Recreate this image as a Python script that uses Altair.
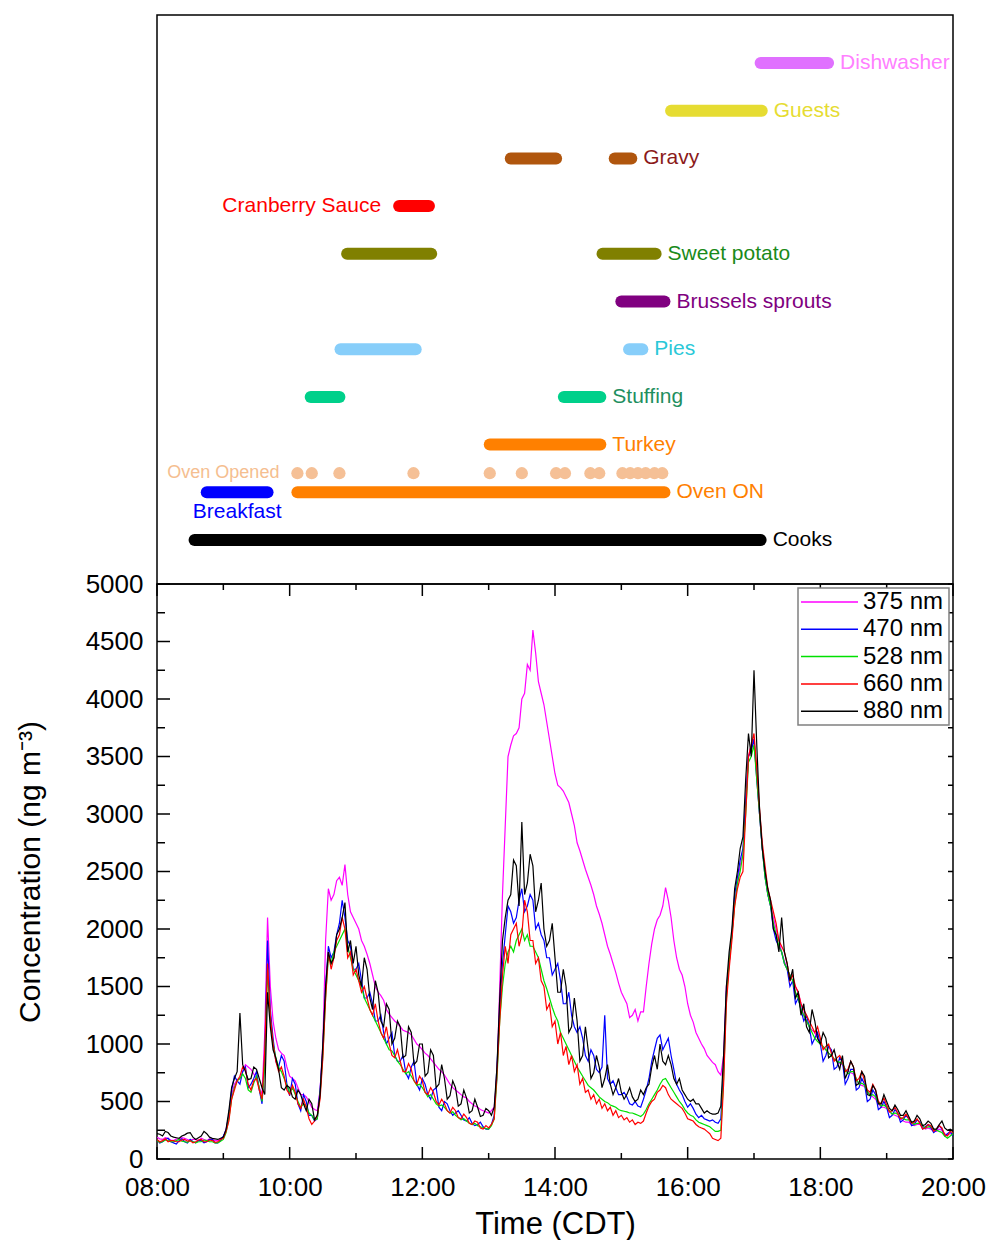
import altair as alt
import pandas as pd

# ---------------------------------------------------------------------------
# Black-carbon concentrations (ng m-3), one value every 2.5 minutes,
# 08:00-20:00; each row below covers half an hour.
# ---------------------------------------------------------------------------
SAMPLE_MIN = [480 + 2.5 * k for k in range(289)]

BC_375 = [
    190, 175, 170, 185, 180, 165, 160, 175, 170, 185, 180, 170,
    160, 170, 170, 160, 180, 170, 160, 175, 170, 160, 160, 175,
    190, 260, 380, 560, 650, 690, 700, 760, 820, 800, 780, 740,
    700, 620, 560, 1100, 2100, 1500, 1200, 1050, 950, 920, 900, 800,
    720, 700, 680, 620, 560, 560, 540, 500, 450, 430, 420, 600,
    1000, 1900, 2350, 2250, 2300, 2420, 2450, 2380, 2560, 2300, 2150, 2100,
    2050, 2000, 1900, 1850, 1780, 1700, 1600, 1500, 1450, 1420, 1380, 1300,
    1260, 1230, 1200, 1180, 1150, 1120, 1110, 1100, 1080, 1040, 1000, 980,
    950, 920, 900, 870, 840, 810, 780, 760, 730, 690, 650, 620,
    600, 580, 560, 540, 530, 500, 480, 460, 450, 430, 420, 410,
    400, 420, 450, 700, 1500, 2300, 2900, 3500, 3600, 3680, 3700, 3750,
    4000, 4050, 4300, 4250, 4600, 4400, 4150, 4050, 3950, 3800, 3650, 3500,
    3350, 3250, 3230, 3200, 3150, 3100, 3000, 2900, 2750, 2680, 2600, 2520,
    2450, 2380, 2300, 2200, 2130, 2050, 1950, 1850, 1780, 1700, 1620, 1530,
    1450, 1400, 1350, 1230, 1250, 1300, 1200, 1280, 1280, 1500, 1700, 1870,
    2000, 2080, 2120, 2200, 2360, 2250, 2100, 1900, 1750, 1650, 1600, 1500,
    1350, 1250, 1190, 1100, 1050, 1000, 960, 900, 870, 840, 820, 760,
    730, 900, 1500, 1700, 1950, 2250, 2400, 2550, 2650, 3100, 3500, 3600,
    3650, 3350, 3000, 2700, 2500, 2300, 2200, 2100, 2000, 1900, 1800, 1720,
    1650, 1600, 1550, 1500, 1450, 1350, 1250, 1200, 1150, 1120, 1100, 1050,
    1000, 970, 950, 920, 900, 870, 850, 830, 820, 780, 760, 750,
    740, 690, 650, 640, 630, 590, 560, 540, 520, 480, 450, 450,
    440, 410, 390, 380, 370, 350, 330, 320, 320, 300, 290, 300,
    300, 280, 260, 270, 260, 250, 240, 260, 250, 220, 210, 220,
    210,
]

BC_470 = [
    170, 140, 150, 170, 180, 150, 140, 130, 160, 175, 150, 140,
    170, 150, 140, 160, 160, 140, 150, 170, 170, 140, 140, 160,
    200, 250, 380, 600, 720, 680, 650, 760, 800, 620, 650, 700,
    760, 600, 480, 900, 1900, 1300, 1050, 850, 800, 900, 850, 650,
    550, 700, 650, 480, 420, 560, 500, 380, 380, 330, 350, 600,
    950, 1500, 1850, 1750, 1800, 1950, 2050, 2250, 2100, 1900, 1850, 1650,
    1650, 1700, 1550, 1400, 1400, 1450, 1350, 1200, 1200, 1250, 1100, 1000,
    1050, 1100, 900, 850, 850, 900, 750, 700, 800, 850, 650, 600,
    700, 650, 560, 520, 600, 620, 450, 420, 500, 480, 420, 380,
    400, 420, 380, 340, 330, 360, 310, 290, 300, 320, 280, 260,
    260, 300, 380, 800, 1300, 1700, 1950, 2200, 2150, 2050, 2100, 2250,
    2350, 2150, 2200, 2300, 2250, 2000, 2050, 1950, 1900, 1750, 1750, 1600,
    1650, 1700, 1550, 1350, 1350, 1450, 1250, 1150, 1100, 1150, 1050, 900,
    850, 950, 900, 780, 750, 800, 1250, 700, 650, 680, 620, 560,
    560, 580, 540, 480, 470, 500, 460, 450, 520, 600, 700, 850,
    950, 1050, 1080, 950, 1000, 1050, 900, 780, 650, 600, 560, 500,
    450, 480, 440, 390, 360, 380, 350, 340, 330, 340, 320, 310,
    350, 800, 1450, 1700, 1950, 2300, 2450, 2600, 2700, 3100, 3500, 3550,
    3650, 3300, 3000, 2700, 2450, 2300, 2200, 2000, 1900, 1850, 1800, 1700,
    1650, 1500, 1550, 1350, 1400, 1300, 1200, 1250, 1150, 1000, 1050, 1100,
    1000, 850, 900, 980, 950, 780, 800, 880, 850, 650, 700, 780,
    780, 600, 620, 700, 650, 500, 520, 600, 560, 430, 450, 500,
    450, 360, 380, 430, 400, 320, 340, 380, 350, 290, 300, 340,
    320, 260, 280, 300, 270, 230, 250, 290, 260, 200, 220, 240,
    200,
]

BC_528 = [
    160, 145, 150, 165, 160, 150, 150, 160, 170, 155, 150, 145,
    160, 150, 140, 150, 150, 165, 160, 150, 150, 140, 140, 155,
    170, 230, 350, 520, 620, 680, 700, 740, 700, 600, 580, 660,
    720, 620, 500, 820, 1650, 1200, 1000, 880, 800, 760, 700, 640,
    580, 620, 560, 500, 450, 480, 460, 400, 380, 340, 350, 560,
    900, 1400, 1750, 1700, 1800, 1850, 1900, 1950, 2000, 1850, 1750, 1650,
    1600, 1550, 1500, 1400, 1350, 1300, 1250, 1200, 1150, 1100, 1050, 1000,
    950, 940, 900, 850, 820, 780, 740, 760, 720, 680, 640, 650,
    620, 580, 540, 560, 520, 480, 460, 470, 450, 420, 400, 410,
    380, 360, 340, 350, 330, 310, 300, 310, 290, 280, 270, 265,
    260, 290, 350, 700, 1200, 1500, 1700, 1800, 1850, 1800, 1900, 1950,
    2000, 1900, 1950, 1850, 1850, 1800, 1750, 1650, 1550, 1480, 1400, 1320,
    1250, 1200, 1100, 1050, 1000, 950, 900, 850, 800, 760, 720, 680,
    640, 620, 600, 570, 540, 520, 500, 490, 470, 460, 450, 430,
    420, 415, 410, 400, 400, 390, 380, 370, 390, 430, 480, 520,
    560, 600, 650, 690, 700, 660, 620, 580, 540, 500, 470, 430,
    400, 380, 370, 340, 320, 310, 300, 290, 280, 260, 240, 240,
    250, 700, 1400, 1700, 1950, 2200, 2400, 2500, 2650, 3000, 3450, 3500,
    3600, 3300, 3000, 2700, 2450, 2300, 2200, 2050, 1950, 1850, 1800, 1700,
    1650, 1600, 1550, 1450, 1400, 1300, 1250, 1200, 1150, 1100, 1050, 1020,
    1000, 980, 950, 920, 900, 870, 850, 840, 830, 780, 740, 760,
    760, 700, 650, 660, 640, 590, 550, 560, 540, 490, 460, 470,
    450, 420, 390, 400, 390, 360, 350, 340, 340, 320, 300, 310,
    310, 290, 270, 280, 280, 260, 250, 240, 230, 200, 180, 200,
    220,
]

BC_660 = [
    170, 150, 160, 175, 150, 160, 160, 150, 150, 165, 170, 155,
    160, 140, 150, 165, 170, 150, 150, 165, 160, 145, 150, 170,
    180, 240, 330, 520, 600, 680, 720, 800, 780, 650, 600, 680,
    700, 600, 520, 950, 1700, 1250, 1000, 850, 760, 800, 720, 600,
    560, 640, 580, 480, 440, 520, 450, 350, 300, 330, 380, 520,
    880, 1400, 1800, 1650, 1750, 1900, 1950, 2100, 2000, 1750, 1800, 1600,
    1650, 1550, 1450, 1500, 1400, 1300, 1250, 1350, 1200, 1100, 1050, 1150,
    1000, 900, 880, 950, 850, 760, 760, 830, 780, 680, 650, 720,
    680, 580, 560, 620, 580, 500, 470, 520, 480, 420, 400, 450,
    420, 360, 350, 390, 360, 310, 300, 330, 320, 270, 260, 290,
    270, 300, 350, 750, 1200, 1600, 1850, 1700, 1950, 2000, 2050, 1850,
    1950, 2250, 2150, 1900, 1900, 1700, 1750, 1550, 1500, 1300, 1350, 1150,
    1200, 1000, 1100, 900, 980, 820, 900, 760, 820, 650, 700, 580,
    600, 520, 560, 480, 520, 440, 480, 420, 450, 380, 420, 360,
    380, 340, 360, 320, 340, 300, 320, 310, 330, 400, 460, 500,
    520, 580, 600, 640, 620, 560, 520, 500, 480, 460, 440, 400,
    350, 340, 330, 300, 280, 270, 260, 240, 220, 180, 170, 160,
    180, 650, 1350, 1650, 1900, 2200, 2350, 2450, 2500, 3000, 3500, 3600,
    3700, 3400, 3050, 2750, 2550, 2350, 2250, 2150, 2050, 1900, 1850, 1800,
    1700, 1550, 1600, 1500, 1450, 1350, 1300, 1250, 1200, 1150, 1100, 1150,
    1050, 950, 980, 1000, 920, 850, 880, 900, 850, 760, 780, 850,
    800, 680, 700, 760, 680, 600, 580, 650, 600, 500, 480, 530,
    470, 410, 420, 450, 400, 350, 360, 390, 350, 310, 320, 350,
    310, 260, 270, 300, 290, 240, 260, 290, 270, 210, 200, 240,
    230,
]

BC_880 = [
    220, 215, 200, 240, 230, 200, 190, 185, 180, 200, 210, 225,
    230, 190, 170, 185, 200, 240, 220, 190, 180, 175, 170, 180,
    190, 260, 420, 620, 700, 760, 1270, 820, 760, 690, 700, 800,
    780, 700, 620, 560, 1450, 1150, 950, 880, 780, 620, 600, 640,
    620, 540, 520, 600, 560, 480, 420, 520, 480, 340, 380, 560,
    1000, 1500, 1800, 1700, 1750, 1950, 2000, 2100, 2230, 1800, 1900, 1700,
    1850, 1600, 1500, 1750, 1650, 1400, 1300, 1550, 1450, 1200, 1150, 1350,
    1300, 1000, 1050, 1200, 1150, 880, 900, 1150, 1100, 820, 850, 1000,
    1000, 720, 750, 950, 900, 620, 650, 820, 700, 520, 550, 680,
    620, 460, 480, 600, 530, 400, 420, 520, 450, 370, 380, 440,
    420, 380, 450, 800, 1400, 1900, 2100, 2250, 2300, 2600, 2550, 2200,
    2930, 2300, 2400, 2650, 2550, 2150, 2250, 2400, 2000, 1850, 1900, 2050,
    1750, 1450, 1450, 1650, 1500, 1100, 1150, 1400, 1200, 850, 900, 1150,
    950, 700, 750, 900, 800, 620, 700, 820, 650, 560, 620, 700,
    580, 520, 560, 620, 540, 500, 520, 600, 560, 620, 650, 800,
    900, 780, 1000, 850, 820, 900, 820, 700, 650, 700, 600, 560,
    520, 500, 520, 480, 480, 440, 400, 420, 400, 390, 390, 400,
    460, 900, 1500, 1800, 2000, 2350, 2500, 2700, 2800, 3300, 3700, 3500,
    4250, 3600, 3050, 2700, 2500, 2350, 2250, 2000, 1950, 1800, 2100, 1800,
    1700, 1550, 1650, 1400, 1450, 1250, 1350, 1150, 1100, 1300, 1200, 1050,
    1000, 1100, 1050, 880, 900, 950, 850, 780, 900, 700, 760, 850,
    800, 640, 660, 760, 720, 560, 550, 640, 600, 480, 480, 560,
    500, 440, 420, 470, 430, 380, 380, 420, 370, 320, 330, 380,
    350, 290, 300, 330, 310, 260, 260, 300, 330, 270, 250, 260,
    240,
]

SERIES_NAMES = ["375 nm", "470 nm", "528 nm", "660 nm", "880 nm"]
SERIES_VALUES = [BC_375, BC_470, BC_528, BC_660, BC_880]
SERIES_COLORS = ["#ff00ff", "#0000ff", "#00e000", "#ff0000", "#000000"]

# ---------------------------------------------------------------------------
# Activity log
# ---------------------------------------------------------------------------
ROW = {
    "Cooks": 0, "Breakfast": 1, "Oven ON": 1, "Oven Opened": 1.4, "Turkey": 2,
    "Stuffing": 3, "Pies": 4, "Brussels sprouts": 5, "Sweet potato": 6,
    "Cranberry Sauce": 7, "Gravy": 8, "Guests": 9, "Dishwasher": 10,
}

SEGMENTS = [
    ("Cooks", "08:34", "17:06"),
    ("Breakfast", "08:45", "09:40"),
    ("Oven ON", "10:07", "15:39"),
    ("Turkey", "13:01", "14:41"),
    ("Stuffing", "10:19", "10:45"),
    ("Stuffing", "14:08", "14:41"),
    ("Pies", "10:46", "11:54"),
    ("Pies", "15:07", "15:19"),
    ("Brussels sprouts", "15:00", "15:39"),
    ("Sweet potato", "10:52", "12:08"),
    ("Sweet potato", "14:43", "15:31"),
    ("Cranberry Sauce", "11:39", "12:06"),
    ("Gravy", "13:20", "14:01"),
    ("Gravy", "14:54", "15:09"),
    ("Guests", "15:45", "17:07"),
    ("Dishwasher", "17:06", "18:07"),
]

OVEN_OPENED = ["10:07", "10:20", "10:45", "11:52", "13:01", "13:30", "14:01",
               "14:09", "14:32", "14:40", "15:01", "15:08", "15:15", "15:22",
               "15:30", "15:37"]

BAR_COLOR = {
    "Cooks": "#000000", "Breakfast": "#0000ff", "Oven ON": "#ff8000",
    "Turkey": "#ff8000", "Stuffing": "#00d08a", "Pies": "#87cefa",
    "Brussels sprouts": "#800080", "Sweet potato": "#808000",
    "Cranberry Sauce": "#ff0000", "Gravy": "#b0560e", "Guests": "#e6dc32",
    "Dishwasher": "#e070ff",
}
LABEL_COLOR = {
    "Cooks": "#000000", "Breakfast": "#0000ff", "Oven ON": "#ff8000",
    "Turkey": "#ff8000", "Stuffing": "#1f8f5f", "Pies": "#2ac8d8",
    "Brussels sprouts": "#800080", "Sweet potato": "#1a8a1a",
    "Cranberry Sauce": "#ff0000", "Gravy": "#8b1a1a", "Guests": "#e6dc32",
    "Dishwasher": "#ff80ff", "Oven Opened": "#f5be90",
}
LEFT_LABELS = ["Cranberry Sauce"]
BELOW_LABELS = ["Breakfast"]

FONT = "Liberation Sans"
W = 796
H_TOP = 569
H_BOT = 575
X_DOMAIN = [8, 20]
Y_TOP_DOMAIN = [-0.922, 11.006]


def hours(hhmm):
    h, m = hhmm.split(":")
    return int(h) + int(m) / 60.0


# ---------------------------------------------------------------------------
# Top panel: activity timeline
# ---------------------------------------------------------------------------
seg_df = pd.DataFrame(
    [{"act": a, "start": hours(s), "end": hours(e), "row": ROW[a],
      "color": BAR_COLOR[a]} for a, s, e in SEGMENTS]
)

lab_rows = []
for act in BAR_COLOR:
    segs = seg_df[seg_df["act"] == act]
    if act in LEFT_LABELS:
        side, x = "left", segs["start"].min()
    elif act in BELOW_LABELS:
        side, x = "below", (segs["start"].min() + segs["end"].max()) / 2
    else:
        side, x = "right", segs["end"].max()
    lab_rows.append({"act": act, "x": x, "row": ROW[act], "side": side,
                     "color": LABEL_COLOR[act]})
lab_df = pd.DataFrame(lab_rows)

dots_df = pd.DataFrame({"t": [hours(t) for t in OVEN_OPENED],
                        "row": ROW["Oven Opened"]})
oven_lab_df = pd.DataFrame({"act": ["Oven Opened"], "x": [dots_df["t"].min()],
                            "row": [ROW["Oven Opened"]]})

xs_top = alt.Scale(domain=X_DOMAIN, nice=False, zero=False)
ys_top = alt.Scale(domain=Y_TOP_DOMAIN, nice=False, zero=False)

bars = alt.Chart(seg_df).mark_rule(strokeWidth=12, strokeCap="round").encode(
    x=alt.X("start:Q", scale=xs_top, axis=None),
    x2="end:Q",
    y=alt.Y("row:Q", scale=ys_top, axis=None),
    color=alt.Color("color:N", scale=None),
)

dots = alt.Chart(dots_df).mark_circle(size=150, opacity=1, color="#f5c096").encode(
    x=alt.X("t:Q", scale=xs_top, axis=None),
    y=alt.Y("row:Q", scale=ys_top, axis=None),
)


def label_layer(side, align, dx, dy):
    return alt.Chart(lab_df).transform_filter(
        alt.datum.side == side
    ).mark_text(align=align, baseline="middle", dx=dx, dy=dy, font=FONT,
                fontSize=21).encode(
        x=alt.X("x:Q", scale=xs_top, axis=None),
        y=alt.Y("row:Q", scale=ys_top, axis=None),
        text="act:N",
        color=alt.Color("color:N", scale=None),
    )


oven_label = alt.Chart(oven_lab_df).mark_text(
    align="right", baseline="middle", dx=-18, font=FONT, fontSize=18,
    color=LABEL_COLOR["Oven Opened"],
).encode(
    x=alt.X("x:Q", scale=xs_top, axis=None),
    y=alt.Y("row:Q", scale=ys_top, axis=None),
    text="act:N",
)

top = alt.layer(
    bars, dots,
    label_layer("right", "left", 12, 0),
    label_layer("left", "right", -18, 0),
    label_layer("below", "center", 0, 20),
    oven_label,
).properties(width=W, height=H_TOP)

# ---------------------------------------------------------------------------
# Bottom panel: concentration time series
# ---------------------------------------------------------------------------
ts_rows = []
for name, vals in zip(SERIES_NAMES, SERIES_VALUES):
    for m, v in zip(SAMPLE_MIN, vals):
        ts_rows.append({"hour": m / 60.0, "conc": v, "series": name})
ts_df = pd.DataFrame(ts_rows)

xs = alt.Scale(domain=X_DOMAIN, nice=False, zero=False)
ys = alt.Scale(domain=[0, 5000], nice=False)

x_axis = alt.Axis(
    values=list(range(8, 21, 2)),
    labelExpr="(datum.value < 10 ? '0' : '') + datum.value + ':00'",
    labelFontSize=26, labelFont=FONT, labelColor="black", labelPadding=15,
    labelFlush=False, labelOverlap=False,
    ticks=False, domain=False, grid=False,
    title="Time (CDT)", titleFontSize=31, titleFont=FONT,
    titleFontWeight="normal", titleColor="black", titlePadding=9,
)
y_axis = alt.Axis(
    values=list(range(0, 5001, 500)), format="d",
    labelFontSize=26, labelFont=FONT, labelColor="black", labelPadding=14,
    labelFlush=False, labelOverlap=False,
    ticks=False, domain=False, grid=False,
    title="Concentration (ng m\u207b\u00b3)", titleFontSize=30, titleFont=FONT,
    titleFontWeight="normal", titleColor="black", titlePadding=40,
)

line_layers = []
for i, (name, color) in enumerate(zip(SERIES_NAMES, SERIES_COLORS)):
    line_layers.append(
        alt.Chart(ts_df).transform_filter(alt.datum.series == name)
        .mark_line(color=color, strokeWidth=1.2, clip=True)
        .encode(
            x=alt.X("hour:Q", scale=xs, axis=x_axis if i == 0 else None),
            y=alt.Y("conc:Q", scale=ys, axis=y_axis if i == 0 else None),
        )
    )

# inward-pointing frame ticks
hour_ticks = pd.DataFrame({"hour": list(range(8, 21))})
hour_ticks["major"] = hour_ticks["hour"] % 2 == 0
conc_ticks = pd.DataFrame({"conc": list(range(0, 5001, 250))})
conc_ticks["major"] = conc_ticks["conc"] % 500 == 0


def xtick(major, y0, y1):
    return alt.Chart(hour_ticks).transform_filter(
        alt.datum.major if major else ~alt.datum.major
    ).mark_rule(color="black", strokeWidth=1.5).encode(
        x=alt.X("hour:Q", scale=xs, axis=None),
        y=alt.value(y0), y2=alt.value(y1),
    )


def ytick(major, x0, x1):
    return alt.Chart(conc_ticks).transform_filter(
        alt.datum.major if major else ~alt.datum.major
    ).mark_rule(color="black", strokeWidth=1.5).encode(
        y=alt.Y("conc:Q", scale=ys, axis=None),
        x=alt.value(x0), x2=alt.value(x1),
    )


tick_layers = [
    xtick(True, H_BOT, H_BOT - 12), xtick(False, H_BOT, H_BOT - 6),
    xtick(True, 0, 12), xtick(False, 0, 6),
    ytick(True, 0, 13), ytick(False, 0, 8),
    ytick(True, W, W - 5), ytick(False, W, W - 5),
]

# legend box drawn inside the plot area
one = pd.DataFrame({"k": [0]})
legend_box = alt.Chart(one).mark_rect(
    fill="white", stroke="#808080", strokeWidth=1.5
).encode(x=alt.value(641), x2=alt.value(792), y=alt.value(4), y2=alt.value(141))

legend_layers = [legend_box]
for i, (name, color) in enumerate(zip(SERIES_NAMES, SERIES_COLORS)):
    ly = 18 + i * 27.3
    legend_layers.append(
        alt.Chart(one).mark_rule(color=color, strokeWidth=1.5).encode(
            x=alt.value(644), x2=alt.value(701), y=alt.value(ly)
        )
    )
    legend_layers.append(
        alt.Chart(one).mark_text(
            text=name, align="left", baseline="middle", font=FONT,
            fontSize=24, color="black",
        ).encode(x=alt.value(706), y=alt.value(ly))
    )

bottom = alt.layer(*line_layers, *tick_layers, *legend_layers).resolve_axis(
    x="independent", y="independent"
).properties(width=W, height=H_BOT)

chart = alt.vconcat(top, bottom, spacing=0, bounds="flush").properties(
    padding={"left": 14, "top": 14, "right": 0, "bottom": 0}
).configure(
    font=FONT, background="white"
).configure_view(
    stroke="black", strokeWidth=1.5
)

chart.save("out.html", embed_options={"renderer": "svg", "actions": False})
